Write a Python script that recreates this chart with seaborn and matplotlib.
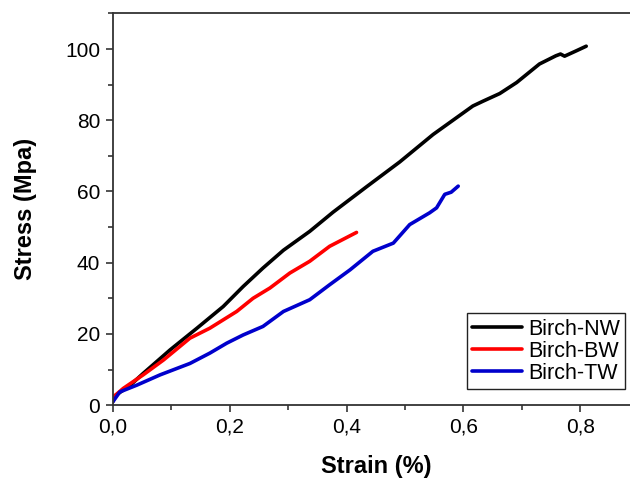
import numpy as np
import pandas as pd
import matplotlib
matplotlib.use("Agg")
import matplotlib.pyplot as plt
import matplotlib.ticker as mticker
import seaborn as sns

# values
nw_strain = [0.0, 0.001, 0.03, 0.052, 0.098, 0.144, 0.189, 0.223, 0.257, 0.292,
             0.337, 0.377, 0.434, 0.491, 0.548, 0.582, 0.616, 0.634, 0.662,
             0.691, 0.730, 0.758, 0.766, 0.773, 0.793, 0.810]
nw_stress = [1.0, 2.3, 5.6, 8.9, 15.5, 21.6, 27.7, 33.3, 38.5, 43.5,
             48.8, 54.2, 61.3, 68.3, 76.0, 80.0, 84.0, 85.4, 87.5,
             90.6, 95.8, 98.1, 98.6, 98.0, 99.5, 100.8]

bw_strain = [0.0, 0.001, 0.018, 0.052, 0.087, 0.132, 0.166, 0.212, 0.240, 0.269,
             0.303, 0.337, 0.371, 0.417]
bw_stress = [1.0, 2.3, 4.7, 8.5, 12.7, 18.8, 21.6, 26.3, 30.0, 32.9,
             37.1, 40.4, 44.6, 48.5]

tw_strain = [0.0, 0.012, 0.041, 0.081, 0.132, 0.166, 0.195, 0.223, 0.257, 0.292,
             0.337, 0.371, 0.406, 0.445, 0.480, 0.508, 0.542, 0.554, 0.568, 0.579, 0.591]
tw_stress = [0.9, 3.7, 5.6, 8.5, 11.7, 14.6, 17.4, 19.7, 22.1, 26.3,
             29.6, 33.8, 38.0, 43.2, 45.5, 50.7, 54.0, 55.4, 59.2, 59.8, 61.5]

labels = ["Birch-NW", "Birch-BW", "Birch-TW"]
colors = ["#000000", "#ff0000", "#0000cc"]

df = pd.concat([
    pd.DataFrame({"strain": nw_strain, "stress": nw_stress, "sample": labels[0]}),
    pd.DataFrame({"strain": bw_strain, "stress": bw_stress, "sample": labels[1]}),
    pd.DataFrame({"strain": tw_strain, "stress": tw_stress, "sample": labels[2]}),
])

sns.set_style("white")
plt.rcParams['font.family'] = ['Liberation Sans', 'DejaVu Sans']
plt.rcParams['text.color'] = 'black'
plt.rcParams['axes.labelcolor'] = 'black'
plt.rcParams['xtick.color'] = 'black'
plt.rcParams['ytick.color'] = 'black'

fig = plt.figure(figsize=(6.3, 4.8), dpi=100)
ax = fig.add_axes([0.179, 0.156, 0.835, 0.816])

sns.lineplot(data=df, x="strain", y="stress", hue="sample", palette=colors,
             estimator=None, sort=False, linewidth=2.6, ax=ax)

ax.set_xlim(0, 0.9)
ax.set_ylim(0, 110)
ax.xaxis.set_major_locator(mticker.MultipleLocator(0.2))
ax.xaxis.set_minor_locator(mticker.MultipleLocator(0.1))
ax.yaxis.set_major_locator(mticker.MultipleLocator(20))
ax.yaxis.set_minor_locator(mticker.MultipleLocator(10))
ax.xaxis.set_major_formatter(mticker.FuncFormatter(lambda v, p: f"{v:.1f}".replace(".", ",")))
ax.tick_params(which="major", direction="out", length=5, width=1.3, color="#444444",
               labelsize=15, labelcolor="black", bottom=True, left=True, top=False,
               right=False, pad=4)
ax.tick_params(which="minor", direction="out", length=3.5, width=1.3, color="#444444",
               bottom=True, left=True)
for s in ax.spines.values():
    s.set_color("#333333")
    s.set_linewidth(1.3)

ax.set_xlabel("Strain (%)", fontsize=17, fontweight="bold", labelpad=13)
ax.set_ylabel("Stress (Mpa)", fontsize=17, fontweight="bold", labelpad=20)

leg = ax.legend(loc="lower left", bbox_to_anchor=(0.673, 0.041), borderaxespad=0,
                fontsize=15.5, handlelength=2.3, handletextpad=0.3, labelspacing=0.05,
                fancybox=False, framealpha=1, edgecolor="#222222", borderpad=0.25)
leg.get_frame().set_linewidth(1.0)

plt.savefig("out.png", dpi=100)
